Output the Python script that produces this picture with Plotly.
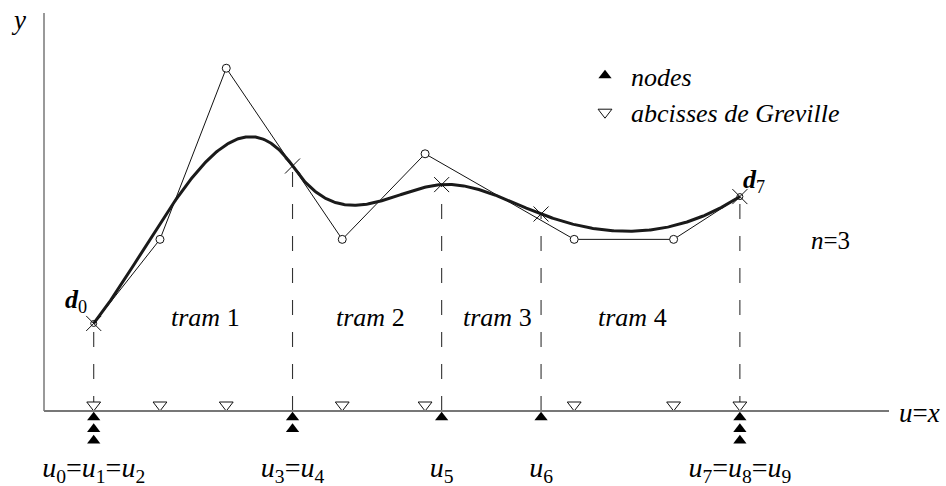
import numpy as np
import plotly.graph_objects as go

# ---------------- data ----------------
degree = 3
knot_values = [0.0, 2.0, 3.5, 4.5, 6.5]          # distinct knots
knot_mult = [3, 2, 1, 1, 3]                      # multiplicities u0..u9
ctrl_y = [0.88, 1.725, 3.445, 1.725, 2.585, 1.725, 1.725, 2.155]   # d0..d7
knot_labels = ["<i>u</i><sub>0</sub>=<i>u</i><sub>1</sub>=<i>u</i><sub>2</sub>",
               "<i>u</i><sub>3</sub>=<i>u</i><sub>4</sub>",
               "<i>u</i><sub>5</sub>",
               "<i>u</i><sub>6</sub>",
               "<i>u</i><sub>7</sub>=<i>u</i><sub>8</sub>=<i>u</i><sub>9</sub>"]
tram_labels = ["<i>tram</i> 1", "<i>tram</i> 2", "<i>tram</i> 3", "<i>tram</i> 4"]

# ---------------- geometry helpers (layout) ----------------
W, H = 946, 486
ML, MR, MT, MB = 44, 57, 13, 0
AXIS_PX = 411                      # pixel row of the u-axis (y = 0)
XR = [-0.5, 8.0]
PW = W - ML - MR
PH = H - MT - MB
sx = PW / (XR[1] - XR[0])
sy = 99.5
YR = [-(H - MB - AXIS_PX) / sy, (AXIS_PX - MT) / sy]


def py2y(py):
    return (AXIS_PX - py) / sy


def ppx(px):
    return (px - ML) / PW


def ppy(py):
    return (H - MB - py) / PH


# full clamped knot vector (one extra knot at each end)
full_mult = knot_mult.copy()
full_mult[0] += 1
full_mult[-1] += 1
knots = np.repeat(knot_values, full_mult).astype(float)
ncp = len(ctrl_y)
greville = [float(np.mean(knots[i + 1:i + degree + 1])) for i in range(ncp)]
ctrl = np.column_stack([greville, ctrl_y])


def deboor(t):
    p = degree
    if t >= knots[-1]:
        k = ncp - 1
    else:
        k = int(np.searchsorted(knots, t, side="right") - 1)
    d = [ctrl[j + k - p].copy() for j in range(p + 1)]
    for r in range(1, p + 1):
        for j in range(p, r - 1, -1):
            den = knots[j + 1 + k - r] - knots[j + k - p]
            a = 0.0 if den == 0 else (t - knots[j + k - p]) / den
            d[j] = (1 - a) * d[j - 1] + a * d[j]
    return d[p]


ts = np.linspace(knots[0], knots[-1], 600)
curve = np.array([deboor(t) for t in ts])
knot_pts = np.array([deboor(t) for t in knot_values])

FONT = "'Liberation Serif', 'Times New Roman', Times, serif"
INK = "#111111"

fig = go.Figure()

# dashed verticals from axis up to the curve at each knot
dx, dy = [], []
for kx, kp in zip(knot_values, knot_pts):
    dx += [kx, kx, None]
    dy += [0, kp[1], None]
fig.add_trace(go.Scatter(x=dx, y=dy, mode="lines", showlegend=False, hoverinfo="skip",
                         line=dict(color="#333333", width=1.1, dash="15px,17px")))

# control polygon
fig.add_trace(go.Scatter(x=ctrl[:, 0], y=ctrl[:, 1], mode="lines", showlegend=False,
                         line=dict(color=INK, width=1)))
# curve
fig.add_trace(go.Scatter(x=curve[:, 0], y=curve[:, 1], mode="lines", showlegend=False,
                         line=dict(color="#1a1a1a", width=3)))
# inner control points (open circles)
fig.add_trace(go.Scatter(x=ctrl[1:-1, 0], y=ctrl[1:-1, 1], mode="markers", showlegend=False,
                         marker=dict(symbol="circle", size=8, color="white",
                                     line=dict(color=INK, width=1))))
# end control points (small circles)
fig.add_trace(go.Scatter(x=ctrl[[0, -1], 0], y=ctrl[[0, -1], 1], mode="markers", showlegend=False,
                         marker=dict(symbol="circle-open", size=6, color=INK,
                                     line=dict(color=INK, width=1))))
# crosses at knot points on the curve
fig.add_trace(go.Scatter(x=knot_pts[:, 0], y=knot_pts[:, 1], mode="markers", showlegend=False,
                         marker=dict(symbol="x-thin-open", size=15, color=INK,
                                     line=dict(color=INK, width=1))))

# knots on axis (stacked by multiplicity)
kx_all, ky_all = [], []
for kv, m in zip(knot_values, knot_mult):
    for j in range(m):
        kx_all.append(kv)
        ky_all.append(py2y(AXIS_PX + 6.4 + 11.6 * j))
fig.add_trace(go.Scatter(x=kx_all, y=ky_all, mode="markers", name="<i>nodes</i>",
                         legendrank=1, legendgroup="a",
                         marker=dict(symbol="triangle-up", size=11.5, color="black",
                                     line=dict(color="black", width=0))))
# Greville abscissae
fig.add_trace(go.Scatter(x=greville, y=[py2y(AXIS_PX - 6)] * ncp, mode="markers",
                         name="<i>abcisses de Greville</i>", legendrank=2, legendgroup="b",
                         marker=dict(symbol="triangle-down", size=12, color="white",
                                     line=dict(color=INK, width=1))))

ann = []


def add_text(text, px, py, size=26):
    ann.append(dict(x=ppx(px), y=ppy(py), xref="paper", yref="paper", text=text,
                    showarrow=False, xanchor="center", yanchor="middle",
                    font=dict(family=FONT, size=size, color="black")))


add_text("<i>y</i>", 18, 20, size=27)
add_text("<i>u</i>=<i>x</i>", 919, 413, size=27)
add_text("<i>n</i>=3", 830, 240, size=25)
add_text("<b><i>d</i></b><sub>0</sub>", 76, 301, size=26)
add_text("<b><i>d</i></b><sub>7</sub>", 754, 181, size=26)
for lab, cx in zip(tram_labels, [205, 370, 497, 632]):
    add_text(lab, cx, 317)

# y-axis line (only above the u-axis)
shapes = [dict(type="line", xref="x domain", yref="y", x0=0, x1=0, y0=0, y1=YR[1],
               line=dict(color="#777777", width=1.5), layer="above")]

fig.update_layout(
    width=W, height=H,
    margin=dict(l=ML, r=MR, t=MT, b=MB, pad=0),
    paper_bgcolor="white", plot_bgcolor="white",
    font=dict(family=FONT, size=26, color="black"),
    xaxis=dict(range=XR, showgrid=False, zeroline=False, showline=True,
               anchor="free", position=ppy(AXIS_PX), automargin=False,
               linecolor="#777777", linewidth=1.5, ticks="",
               tickvals=knot_values, ticktext=knot_labels, ticklabelstandoff=32,
               tickfont=dict(family=FONT, size=28, color="black"), fixedrange=True),
    yaxis=dict(range=YR, showgrid=False, zeroline=False, showline=False,
               ticks="", showticklabels=False, automargin=False, fixedrange=True),
    legend=dict(x=ppx(579), y=ppy(52), xanchor="left", yanchor="top",
                bgcolor="rgba(0,0,0,0)", itemwidth=42,
                font=dict(family=FONT, size=26, color="black"), itemsizing="trace",
                tracegroupgap=0),
    annotations=ann,
    shapes=shapes,
    showlegend=True,
)

fig.write_html("out.html")
